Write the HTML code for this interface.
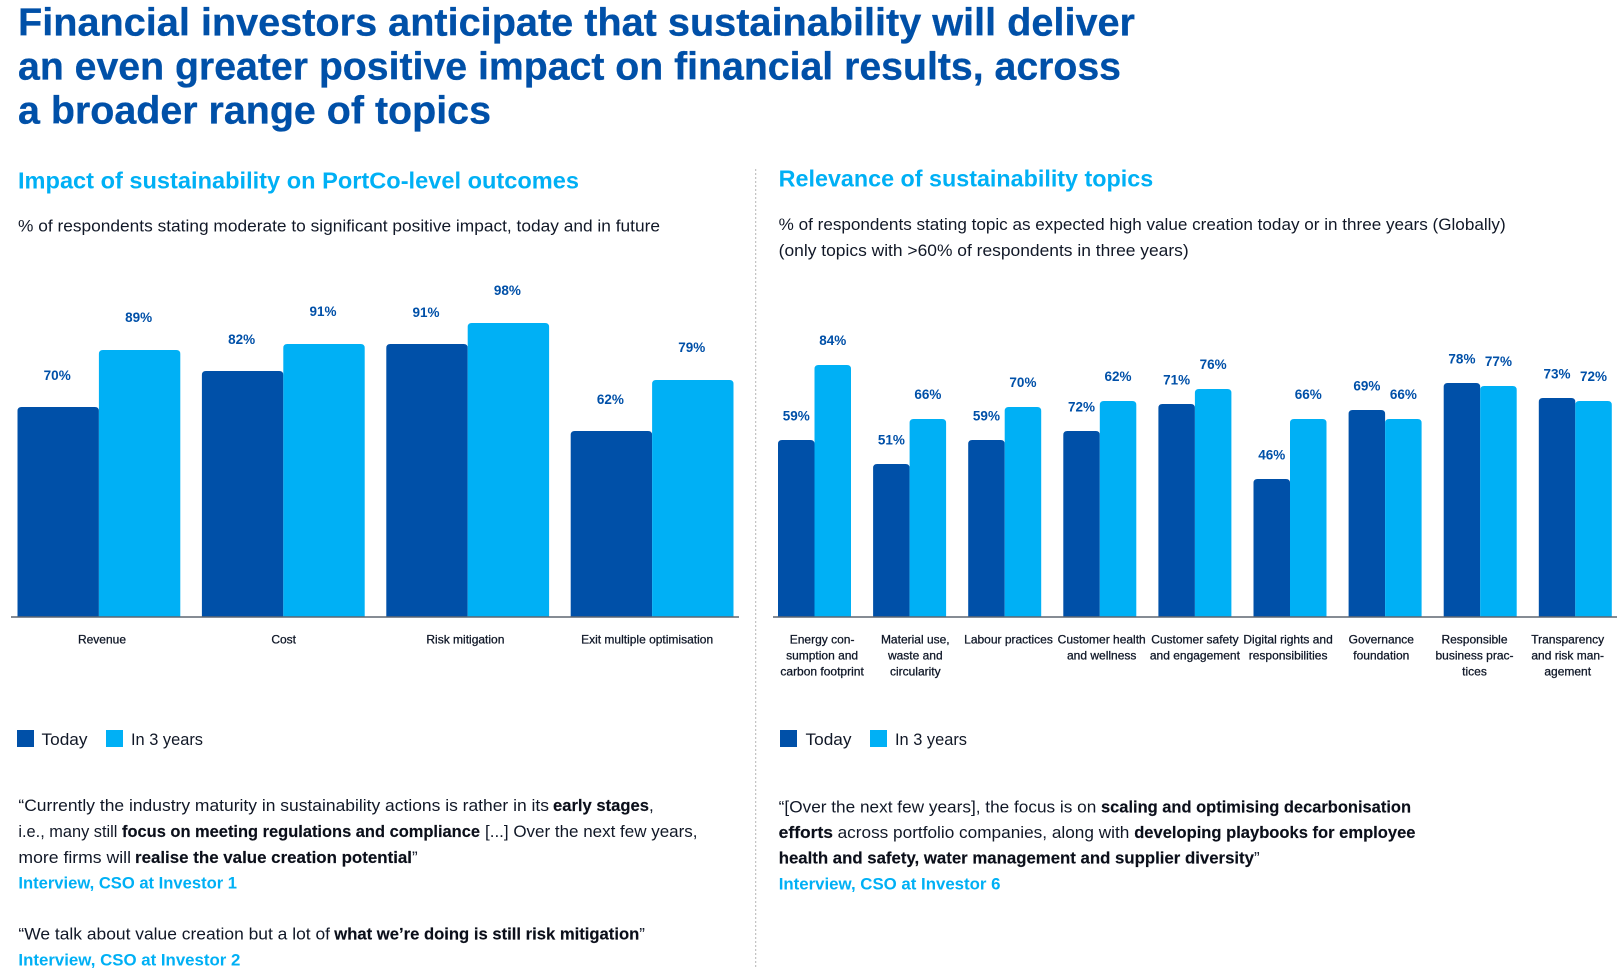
<!DOCTYPE html>
<html lang="en">
<head>
<meta charset="utf-8">
<title>Financial investors anticipate that sustainability will deliver</title>
<style>
html,body{margin:0;padding:0;background:#fff;width:1623px;height:980px;overflow:hidden}
svg{display:block;font-family:"Liberation Sans",Arial,sans-serif}
.title{font-size:39px;font-weight:700;fill:#0050A8;stroke:#0050A8;stroke-width:.3px}
.head{font-size:23px;font-weight:700;fill:#00B0F5}
.body{font-size:17px;fill:#111827}
.bold{font-size:17px;font-weight:700;fill:#0b0f1a;stroke:#0b0f1a;stroke-width:.15px}
.src{font-size:17px;font-weight:700;fill:#00B0F5}
.val{font-size:13.5px;font-weight:700;fill:#0050A8;text-anchor:middle}
.tick{font-size:12px;fill:#101828;stroke:#101828;stroke-width:.28px;text-anchor:middle}
</style>
</head>
<body>
<svg id="page" xmlns="http://www.w3.org/2000/svg" width="1623" height="980" viewBox="0 0 1623 980">
  <g>
    <text class="title" x="18" y="35.7" textLength="1117" lengthAdjust="spacingAndGlyphs">Financial investors anticipate that sustainability will deliver</text>
    <text class="title" x="18" y="79.7" textLength="1103" lengthAdjust="spacingAndGlyphs">an even greater positive impact on financial results, across</text>
    <text class="title" x="18" y="123.7" textLength="473" lengthAdjust="spacingAndGlyphs">a broader range of topics</text>
  </g>

  <line x1="755.7" y1="169" x2="755.7" y2="968" stroke="#b5b5b5" stroke-width="1" stroke-dasharray="2 2"/>

  <text class="head" x="18" y="188.7" textLength="561" lengthAdjust="spacingAndGlyphs">Impact of sustainability on PortCo-level outcomes</text>
  <text class="body" x="18" y="231.7" textLength="642" lengthAdjust="spacingAndGlyphs">% of respondents stating moderate to significant positive impact, today and in future</text>

  <text class="head" x="778.7" y="186.5" textLength="374.5" lengthAdjust="spacingAndGlyphs">Relevance of sustainability topics</text>
  <text class="body" x="778.7" y="230" textLength="727" lengthAdjust="spacingAndGlyphs">% of respondents stating topic as expected high value creation today or in three years (Globally)</text>
  <text class="body" x="778.7" y="256" textLength="410" lengthAdjust="spacingAndGlyphs">(only topics with &gt;60% of respondents in three years)</text>

  <g id="left-chart"></g>
  <g id="right-chart"></g>

  <g>
    <rect x="17" y="730" width="17" height="17" fill="#0050A8"/>
    <text class="body" x="41.5" y="745" textLength="46" lengthAdjust="spacingAndGlyphs">Today</text>
    <rect x="106" y="730" width="17" height="17" fill="#00B0F5"/>
    <text class="body" x="131" y="745" textLength="72" lengthAdjust="spacingAndGlyphs">In 3 years</text>
  </g>
  <g>
    <rect x="780" y="730" width="17" height="17" fill="#0050A8"/>
    <text class="body" x="805.5" y="745" textLength="46" lengthAdjust="spacingAndGlyphs">Today</text>
    <rect x="870" y="730" width="17" height="17" fill="#00B0F5"/>
    <text class="body" x="895" y="745" textLength="72" lengthAdjust="spacingAndGlyphs">In 3 years</text>
  </g>

  <g>
    <text class="body" x="18.4" y="811" textLength="530.6" lengthAdjust="spacingAndGlyphs">“Currently the industry maturity in sustainability actions is rather in its</text>
    <text class="bold" x="553" y="811" textLength="96" lengthAdjust="spacingAndGlyphs">early stages</text>
    <text class="body" x="649" y="811">,</text>
    <text class="body" x="18.4" y="837" textLength="99" lengthAdjust="spacingAndGlyphs">i.e., many still</text>
    <text class="bold" x="122" y="837" textLength="358" lengthAdjust="spacingAndGlyphs">focus on meeting regulations and compliance</text>
    <text class="body" x="485" y="837" textLength="212.5" lengthAdjust="spacingAndGlyphs">[...] Over the next few years,</text>
    <text class="body" x="18.4" y="862.8" textLength="112.6" lengthAdjust="spacingAndGlyphs">more firms will</text>
    <text class="bold" x="135" y="862.8" textLength="277" lengthAdjust="spacingAndGlyphs">realise the value creation potential</text>
    <text class="body" x="412" y="862.8">”</text>
    <text class="src" x="18.4" y="888.6" textLength="218.6" lengthAdjust="spacingAndGlyphs">Interview, CSO at Investor 1</text>
  </g>
  <g>
    <text class="body" x="18.4" y="939.3" textLength="311.6" lengthAdjust="spacingAndGlyphs">“We talk about value creation but a lot of</text>
    <text class="bold" x="334.3" y="939.3" textLength="305" lengthAdjust="spacingAndGlyphs">what we’re doing is still risk mitigation</text>
    <text class="body" x="639.3" y="939.3">”</text>
    <text class="src" x="18.4" y="965.5" textLength="222" lengthAdjust="spacingAndGlyphs">Interview, CSO at Investor 2</text>
  </g>
  <g>
    <text class="body" x="778.7" y="812.5" textLength="317.6" lengthAdjust="spacingAndGlyphs">“[Over the next few years], the focus is on</text>
    <text class="bold" x="1101" y="812.5" textLength="310" lengthAdjust="spacingAndGlyphs">scaling and optimising decarbonisation</text>
    <text class="bold" x="778.7" y="838" textLength="54.3" lengthAdjust="spacingAndGlyphs">efforts</text>
    <text class="body" x="837.6" y="838" textLength="291.7" lengthAdjust="spacingAndGlyphs">across portfolio companies, along with</text>
    <text class="bold" x="1134.2" y="838" textLength="281.3" lengthAdjust="spacingAndGlyphs">developing playbooks for employee</text>
    <text class="bold" x="778.7" y="863.6" textLength="475.3" lengthAdjust="spacingAndGlyphs">health and safety, water management and supplier diversity</text>
    <text class="body" x="1254" y="863.6">”</text>
    <text class="src" x="778.7" y="889.6" textLength="221.8" lengthAdjust="spacingAndGlyphs">Interview, CSO at Investor 6</text>
  </g>
</svg>

<script>
// Left chart data
const leftCategories = ["Revenue", "Cost", "Risk mitigation", "Exit multiple optimisation"];
const leftToday = [70, 82, 91, 62];
const leftFuture = [89, 91, 98, 79];

// Right chart data (bar heights as drawn)
const rightCategories = [
  ["Energy con-", "sumption and", "carbon footprint"],
  ["Material use,", "waste and", "circularity"],
  ["Labour practices"],
  ["Customer health", "and wellness"],
  ["Customer safety", "and engagement"],
  ["Digital rights and", "responsibilities"],
  ["Governance", "foundation"],
  ["Responsible", "business prac-", "tices"],
  ["Transparency", "and risk man-", "agement"]
];
const rightToday = [59, 51, 59, 62, 71, 46, 69, 78, 73];
const rightFuture = [84, 66, 70, 72, 76, 66, 66, 77, 72];
// Printed labels: the source prints 72% / 62% on the Customer health bars
const rightTodayLabels = ["59%", "51%", "59%", "72%", "71%", "46%", "69%", "78%", "73%"];
const rightFutureLabels = ["84%", "66%", "70%", "62%", "76%", "66%", "66%", "77%", "72%"];

const SVG_NS = "http://www.w3.org/2000/svg";
const DARK = "#0050A8";
const LIGHT = "#00B0F5";
const BASE_Y = 617;

function valueToY(v) { return BASE_Y - v * 3; }
function leftBarX(i, s) { return 17.5 + i * 184.4 + s * 81.4; }
function leftTickX(i) { return 102 + i * 181.7; }
function rightBarX(i, s) { return 778 + i * 95.1 + s * 36.5; }
function rightTickX(i) { return 821.6 + i * 93.2; }

function barPath(x, y, w, r) {
  return "M" + x + " " + BASE_Y + "V" + (y + r) + "Q" + x + " " + y + " " + (x + r) + " " + y +
         "H" + (x + w - r) + "Q" + (x + w) + " " + y + " " + (x + w) + " " + (y + r) + "V" + BASE_Y + "Z";
}

function drawBar(parent, x, w, value, fill, r) {
  const el = document.createElementNS(SVG_NS, "path");
  el.setAttribute("d", barPath(x, valueToY(value), w, r));
  el.setAttribute("fill", fill);
  
  
  parent.appendChild(el);
}

function drawValue(parent, cx, y, text) {
  const el = document.createElementNS(SVG_NS, "text");
  el.setAttribute("class", "val");
  el.setAttribute("x", cx);
  el.setAttribute("y", y);
  el.textContent = text;
  
  
  parent.appendChild(el);
}

function drawTick(parent, cx, y, text) {
  const el = document.createElementNS(SVG_NS, "text");
  el.setAttribute("class", "tick");
  el.setAttribute("x", cx);
  el.setAttribute("y", y);
  el.textContent = text;
  
  
  parent.appendChild(el);
}

function drawAxis(parent, x1, x2) {
  const el = document.createElementNS(SVG_NS, "line");
  el.setAttribute("x1", x1);
  el.setAttribute("x2", x2);
  el.setAttribute("y1", BASE_Y);
  el.setAttribute("y2", BASE_Y);
  el.setAttribute("stroke", "#5f6670");
  el.setAttribute("stroke-width", "1.4");
  
  
  parent.appendChild(el);
}

const leftGroup = document.getElementById("left-chart");
leftCategories.forEach(function (name, i) {
  const w = 81.4;
  drawBar(leftGroup, leftBarX(i, 0), w, leftToday[i], DARK, 4);
  drawBar(leftGroup, leftBarX(i, 1), w, leftFuture[i], LIGHT, 4);
  drawValue(leftGroup, leftBarX(i, 0) + w / 2 - 1, valueToY(leftToday[i]) - 27, leftToday[i] + "%");
  drawValue(leftGroup, leftBarX(i, 1) + w / 2 - 1, valueToY(leftFuture[i]) - 28, leftFuture[i] + "%");
  drawTick(leftGroup, leftTickX(i), 643.5, name);
});
drawAxis(leftGroup, 11, 739);

const rightGroup = document.getElementById("right-chart");
rightCategories.forEach(function (lines, i) {
  const w = 36.5;
  drawBar(rightGroup, rightBarX(i, 0), w, rightToday[i], DARK, 4);
  drawBar(rightGroup, rightBarX(i, 1), w, rightFuture[i], LIGHT, 4);
  drawValue(rightGroup, rightBarX(i, 0) + w / 2, valueToY(rightToday[i]) - 19.5, rightTodayLabels[i]);
  drawValue(rightGroup, rightBarX(i, 1) + w / 2, valueToY(rightFuture[i]) - 20, rightFutureLabels[i]);
  lines.forEach(function (line, j) {
    drawTick(rightGroup, rightTickX(i) + 0.5, 643.5 + j * 16, line);
  });
});
drawAxis(rightGroup, 773, 1617);
</script>
</body>
</html>
